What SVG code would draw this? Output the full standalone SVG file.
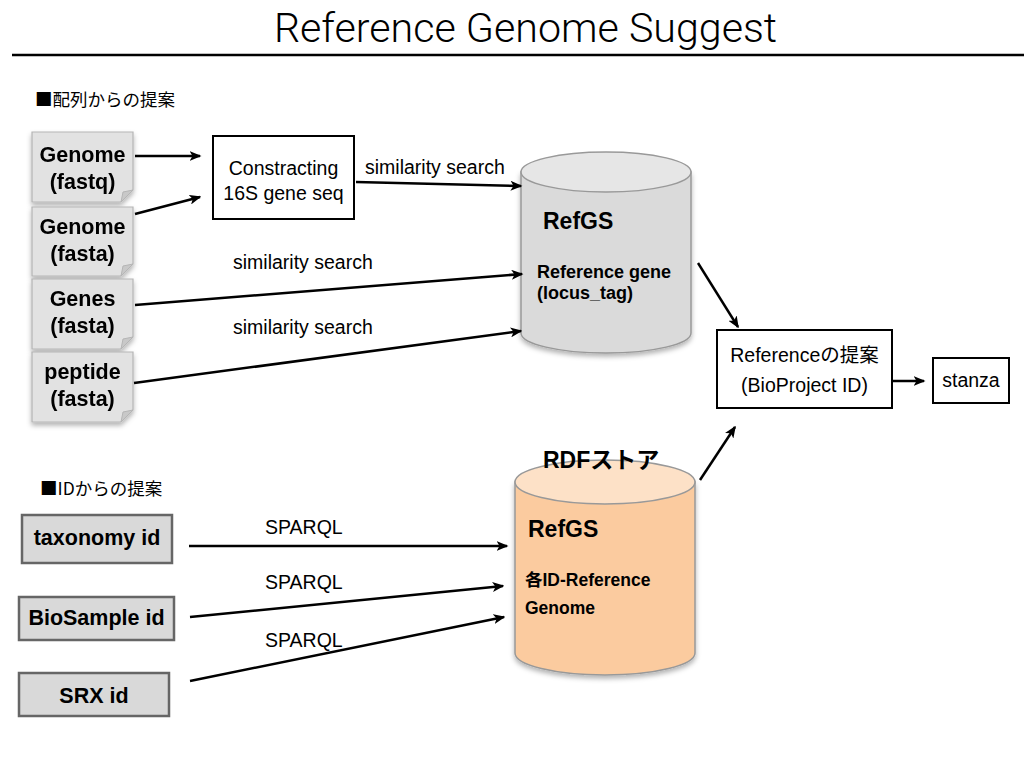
<svg xmlns="http://www.w3.org/2000/svg" width="1024" height="768" viewBox="0 0 1024 768">
<style>
  .t { font-family: "Liberation Sans", Arial, "Noto Sans CJK JP", sans-serif; fill: #000; }
  .j { font-family: "Noto Sans CJK JP", "Liberation Sans", sans-serif; fill: #000; }
  .b { font-weight: bold; }
  .lbl { font-size: 19.5px; }
  .doc { fill: #e2e2e2; stroke: #b5b5b5; stroke-width: 1.2; }
  .fold { fill: #c8c8c8; stroke: #b5b5b5; stroke-width: 1; }
  .idbox { fill: #d9d9d9; stroke: #666; stroke-width: 2.5; }
  .box { fill: #fff; stroke: #000; stroke-width: 2; }
  .conn { stroke: #000; stroke-width: 2.5; fill: none; marker-end: url(#ah); }
</style>
<defs>
  <marker id="ah" viewBox="0 0 12 10" refX="10.5" refY="5" markerWidth="12" markerHeight="10" markerUnits="userSpaceOnUse" orient="auto">
    <path d="M0,0 L12,5 L0,10 L3,5 Z" fill="#000"/>
  </marker>
  <filter id="sh" x="-20%" y="-20%" width="140%" height="140%">
    <feDropShadow dx="0" dy="3" stdDeviation="2.5" flood-color="#000" flood-opacity="0.3"/>
  </filter>
</defs>
<rect width="1024" height="768" fill="#fff"/>

<g id="title">
  <text x="525.5" y="42" font-family="Roboto, 'Liberation Sans', sans-serif" font-weight="300" font-size="41.2" text-anchor="middle" fill="#000">Reference Genome Suggest</text>
  <line x1="12" y1="55" x2="1024" y2="55" stroke="#000" stroke-width="2.5"/>
</g>

<g id="section1">
  <text class="j" x="35" y="106" font-size="17.5">■配列からの提案</text>
</g>
<g id="section2">
  <text class="j" x="40" y="495" font-size="17.5">■IDからの提案</text>
</g>

<g id="doc-genome-fastq" filter="url(#sh)">
  <path class="doc" d="M32,132 H133 V190 L121,202 H32 Z"/>
  <path class="fold" d="M133,190 L121,202 L123,192 Z"/>
  <text class="t b" x="82.5" y="162" font-size="21.5" text-anchor="middle">Genome</text>
  <text class="t b" x="82.5" y="189" font-size="21.5" text-anchor="middle">(fastq)</text>
</g>
<g id="doc-genome-fasta" filter="url(#sh)">
  <path class="doc" d="M32,207 H133 V264 L121,276 H32 Z"/>
  <path class="fold" d="M133,264 L121,276 L123,266 Z"/>
  <text class="t b" x="82.5" y="234" font-size="21.5" text-anchor="middle">Genome</text>
  <text class="t b" x="82.5" y="261" font-size="21.5" text-anchor="middle">(fasta)</text>
</g>
<g id="doc-genes-fasta" filter="url(#sh)">
  <path class="doc" d="M32,279 H133 V337 L121,349 H32 Z"/>
  <path class="fold" d="M133,337 L121,349 L123,339 Z"/>
  <text class="t b" x="82.5" y="306" font-size="21.5" text-anchor="middle">Genes</text>
  <text class="t b" x="82.5" y="333" font-size="21.5" text-anchor="middle">(fasta)</text>
</g>
<g id="doc-peptide-fasta" filter="url(#sh)">
  <path class="doc" d="M32,352 H133 V410 L121,422 H32 Z"/>
  <path class="fold" d="M133,410 L121,422 L123,412 Z"/>
  <text class="t b" x="82.5" y="379" font-size="21.5" text-anchor="middle">peptide</text>
  <text class="t b" x="82.5" y="406" font-size="21.5" text-anchor="middle">(fasta)</text>
</g>

<g id="constracting">
  <rect class="box" x="213" y="136" width="141" height="83"/>
  <text class="t lbl" x="283.5" y="175" text-anchor="middle">Constracting</text>
  <text class="t lbl" x="283.5" y="200" text-anchor="middle">16S gene seq</text>
</g>

<g id="refgs-gene">
  <g filter="url(#sh)">
    <path d="M521,172 V333 A85,20 0 0 0 691,333 V172 Z" fill="#dadada" stroke="#999" stroke-width="1.5"/>
  </g>
  <ellipse cx="606" cy="172" rx="85" ry="20" fill="#e6e6e6" stroke="#999" stroke-width="1.5"/>
  <text class="t b" x="543" y="229" font-size="23">RefGS</text>
  <text class="t b" x="537" y="278" font-size="18">Reference gene</text>
  <text class="t b" x="537" y="299" font-size="18">(locus_tag)</text>
</g>

<g id="refgs-rdf">
  <g filter="url(#sh)">
    <path d="M515,482 V653 A90,22 0 0 0 695,653 V482 Z" fill="#fbcb9f" stroke="#999" stroke-width="1.5"/>
  </g>
  <ellipse cx="605" cy="482" rx="90" ry="22" fill="#fde1c7" stroke="#999" stroke-width="1.5"/>
  <text class="t b" x="543" y="468" font-size="23">RDFストア</text>
  <text class="t b" x="528" y="537" font-size="23">RefGS</text>
  <text class="t b" x="525" y="586" font-size="17.5">各ID-Reference</text>
  <text class="t b" x="525" y="614" font-size="17.5">Genome</text>
</g>

<g id="reference-suggest">
  <rect class="box" x="717" y="330" width="175" height="78"/>
  <text class="t lbl" x="804.5" y="362" text-anchor="middle">Referenceの提案</text>
  <text class="t lbl" x="804.5" y="392" text-anchor="middle">(BioProject ID)</text>
</g>

<g id="stanza">
  <rect class="box" x="933" y="358" width="76" height="45"/>
  <text class="t lbl" x="971" y="387" text-anchor="middle">stanza</text>
</g>

<g id="id-taxonomy">
  <rect class="idbox" x="22" y="515" width="150" height="48"/>
  <text class="t b" x="97" y="545" font-size="21.5" text-anchor="middle">taxonomy id</text>
</g>
<g id="id-biosample">
  <rect class="idbox" x="19" y="597" width="155" height="43"/>
  <text class="t b" x="96.5" y="625" font-size="21.5" text-anchor="middle">BioSample id</text>
</g>
<g id="id-srx">
  <rect class="idbox" x="19" y="673" width="150" height="43"/>
  <text class="t b" x="94" y="703" font-size="21.5" text-anchor="middle">SRX id</text>
</g>

<g id="connectors">
  <line class="conn" x1="135" y1="156" x2="200" y2="156"/>
  <line class="conn" x1="135" y1="214" x2="200" y2="197"/>
  <line class="conn" x1="356" y1="182" x2="521" y2="186"/>
  <line class="conn" x1="135" y1="305" x2="522" y2="274"/>
  <line class="conn" x1="134" y1="383" x2="521" y2="331"/>
  <line class="conn" x1="698" y1="263" x2="738" y2="327"/>
  <line class="conn" x1="893" y1="381" x2="924" y2="381"/>
  <line class="conn" x1="700" y1="480" x2="735" y2="427"/>
  <line class="conn" x1="189" y1="546" x2="507" y2="546"/>
  <line class="conn" x1="190" y1="617" x2="503" y2="586"/>
  <line class="conn" x1="190" y1="681" x2="504" y2="617"/>
  <text class="t lbl" x="365" y="174">similarity search</text>
  <text class="t lbl" x="233" y="269">similarity search</text>
  <text class="t lbl" x="233" y="334">similarity search</text>
  <text class="t lbl" x="265" y="534">SPARQL</text>
  <text class="t lbl" x="265" y="589">SPARQL</text>
  <text class="t lbl" x="265" y="647">SPARQL</text>
</g>
</svg>
